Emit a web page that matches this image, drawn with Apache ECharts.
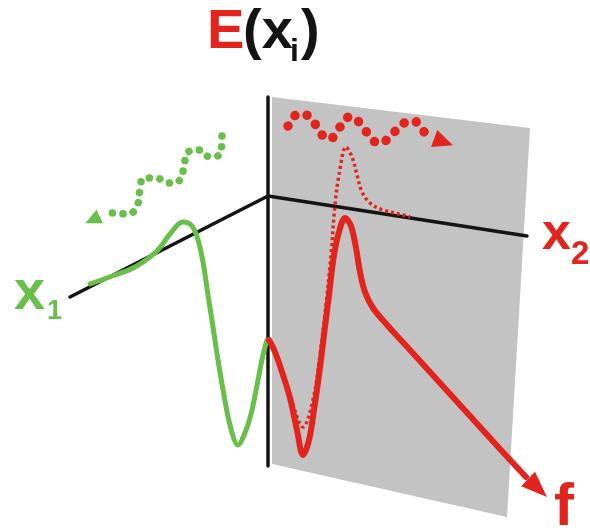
<!DOCTYPE html>
<html><head><meta charset="utf-8">
<script src="https://cdn.jsdelivr.net/npm/echarts@6/dist/echarts.min.js"></script>
<style>html,body{margin:0;padding:0;background:#fff}#c{width:590px;height:531px}</style>
</head><body><div id="c"></div>
<script>
// Diagram values (in the diagram's own coordinate frame)
const planeCorners = [[272,97],[530,128],[507,517],[272,464]];
const axisE = [[268,97],[268,466]];
const axisX1 = [[268,196],[70,297]];
const axisX2 = [[268,196],[527,236]];
const greenCurve = [[90,284],[115,275],[135,267],[157,251],[170,234],[183,222],[192,226],[198,240],[203,262],[208,295],[213,327],[218,360],[224,395],[230,425],[238,445],[246,430],[252,410],[258,380],[263,355],[267,340]];
const redCurve = [[269,340],[275,352],[283,375],[290,398],[297,430],[303,455],[309,440],[314,410],[319,375],[324,335],[329,295],[334,255],[339,232],[345,218],[351,226],[356,248],[360,272],[365,292],[373,308],[388,326],[410,350],[440,383],[470,416],[500,449],[526,477]];
const redCurveTip = [546,496];
const redDotted = [[270,342],[280,365],[290,395],[303,427],[313,400],[320,355],[326,305],[331,255],[335,205],[339,175],[346,147],[352,157],[357,175],[362,192],[370,203],[383,210],[403,215],[410,217]];
const redWave = [[288,126],[299,114],[311,118],[319,131],[329,139],[340,127],[350,117],[360,123],[369,135],[379,143],[390,137],[401,125],[413,121],[423,131],[433,138]];
const redWaveTip = [452,145];
const greenWave = [[222,136],[221,152],[210,157],[200,150],[188,152],[184,166],[180,180],[168,183],[156,178],[144,178],[140,190],[137,206],[127,214],[113,213],[103,215]];
const greenWaveTip = [86,223];
const titleParts = ['E', '(x', 'i', ')'];
const labelX1 = ['x', '1'];
const labelX2 = ['x', '2'];
const labelF = 'f';

const RED = '#e2241d', GREEN = '#68c04a', GRAY = '#c3c3c3', BLACK = '#141414';

function arrowAt(tip, from, size) {
  const dx = tip[0] - from[0], dy = tip[1] - from[1];
  const len = Math.hypot(dx, dy), ux = dx / len, uy = dy / len;
  return {
    value: [tip[0] - ux * size * 0.45, tip[1] - uy * size * 0.45],
    symbolRotate: Math.atan2(-ux, -uy) * 180 / Math.PI
  };
}

function lineSeries(data, color, width, extra) {
  return Object.assign({
    type: 'line', data: data, showSymbol: false, symbol: 'none', silent: true,
    lineStyle: { color: color, width: width, cap: 'round', join: 'round' }
  }, extra || {});
}

const chart = echarts.init(document.getElementById('c'), null, { renderer: 'canvas' });
const FONT = '"Liberation Sans", Arial, sans-serif';
chart.setOption({
  animation: false,
  grid: { left: 0, right: 0, top: 0, bottom: 0 },
  xAxis: { type: 'value', min: 0, max: 590, show: false },
  yAxis: { type: 'value', min: 0, max: 531, inverse: true, show: false },
  series: [
    {
      type: 'custom', z: 1, silent: true, clip: false,
      data: [planeCorners[0]],
      renderItem: function (params, api) {
        return { type: 'polygon', shape: { points: planeCorners.map(p => api.coord(p)) }, style: { fill: GRAY } };
      }
    },
    lineSeries(axisE, BLACK, 3.5, { z: 2 }),
    lineSeries(axisX1, BLACK, 3.5, { z: 2 }),
    lineSeries(axisX2, BLACK, 3.5, { z: 2 }),
    lineSeries(greenCurve, GREEN, 5, { z: 3, smooth: 0.35 }),
    lineSeries(redDotted, RED, 3.5, { z: 3, smooth: 0.35, lineStyle: { color: RED, width: 3.5, type: [3, 3] } }),
    lineSeries(redCurve, RED, 6, { z: 4, smooth: 0.35 }),
    lineSeries(redWave, RED, 9, { z: 3, smooth: 0.5, lineStyle: { color: RED, width: 9.5, type: [0.1, 12.5], cap: 'round' } }),
    lineSeries(greenWave, GREEN, 7, { z: 3, smooth: 0.5, lineStyle: { color: GREEN, width: 7.5, type: [0.1, 10.5], cap: 'round' } }),
    {
      type: 'scatter', z: 5, silent: true, symbol: 'triangle',
      data: [
        Object.assign(arrowAt(redCurveTip, redCurve[redCurve.length - 1], 26), { symbolSize: [20, 26], itemStyle: { color: RED, opacity: 1 } }),
        Object.assign(arrowAt(redWaveTip, redWave[redWave.length - 1], 20), { symbolSize: [18, 20], itemStyle: { color: RED, opacity: 1 } }),
        Object.assign(arrowAt(greenWaveTip, greenWave[greenWave.length - 1], 16), { symbolSize: [15, 16], itemStyle: { color: GREEN, opacity: 1 } })
      ]
    }
  ],
  graphic: [
    { type: 'text', x: 207, y: 33, style: { text: titleParts[0], font: 'bold 56px ' + FONT, fill: RED, verticalAlign: 'middle' } },
    { type: 'text', x: 243, y: 33, style: { text: titleParts[1], font: 'bold 56px ' + FONT, fill: BLACK, verticalAlign: 'middle' } },
    { type: 'text', x: 290, y: 52, style: { text: titleParts[2], font: 'bold 32px ' + FONT, fill: BLACK, verticalAlign: 'middle' } },
    { type: 'text', x: 301, y: 33, style: { text: titleParts[3], font: 'bold 56px ' + FONT, fill: BLACK, verticalAlign: 'middle' } },
    { type: 'text', x: 14, y: 294, style: { text: labelX1[0], font: 'bold 56px ' + FONT, fill: GREEN, verticalAlign: 'middle' } },
    { type: 'text', x: 47, y: 312, style: { text: labelX1[1], font: 'bold 27px ' + FONT, fill: GREEN, verticalAlign: 'middle' } },
    { type: 'text', x: 542, y: 235, style: { text: labelX2[0], font: 'bold 52px ' + FONT, fill: RED, verticalAlign: 'middle' } },
    { type: 'text', x: 571, y: 255, style: { text: labelX2[1], font: 'bold 33px ' + FONT, fill: RED, verticalAlign: 'middle' } },
    { type: 'text', x: 554, y: 508, style: { text: labelF, font: 'bold 60px ' + FONT, fill: RED, verticalAlign: 'middle' } }
  ]
});
</script></body></html>
